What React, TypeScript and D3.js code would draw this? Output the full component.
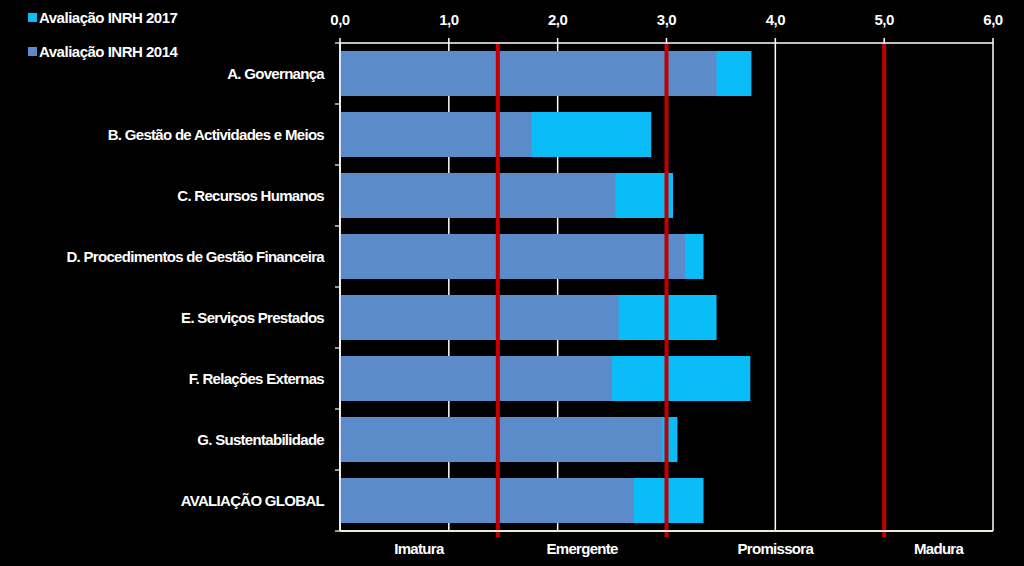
import React from "react";
import * as d3 from "d3";

const categories = [
  "A. Governança",
  "B. Gestão de Actividades e Meios",
  "C. Recursos Humanos",
  "D. Procedimentos de Gestão Financeira",
  "E. Serviços Prestados",
  "F. Relações Externas",
  "G. Sustentabilidade",
  "AVALIAÇÃO GLOBAL",
];
const values2014 = [3.46, 1.76, 2.53, 3.17, 2.56, 2.5, 2.96, 2.7];
const values2017 = [3.78, 2.86, 3.06, 3.34, 3.46, 3.77, 3.1, 3.34];
const xTicks = [0, 1, 2, 3, 4, 5, 6];
const thresholds = [1.45, 3.0, 5.0];
const stageLabels = ["Imatura", "Emergente", "Promissora", "Madura"];
const stageBounds = [0, 1.45, 3.0, 5.0, 6.0];
const seriesNames = ["Avaliação INRH 2017", "Avaliação INRH 2014"];

const C2014 = "#5b8bc8";
const C2017 = "#0abdf9";
const RED = "#c00000";
const FONT = "'Liberation Sans', Arial, sans-serif";

export default function App() {
  const W = 1024, H = 566;
  const x = d3.scaleLinear().domain([0, 6]).range([340, 993]);
  const y = d3.scaleBand<string>().domain(categories).range([43, 531]).paddingInner(0.262).paddingOuter(0.131);
  const top = 43, bottom = 531;
  const fmt = (v: number) => d3.format(".1f")(v).replace(".", ",");
  const step = y.step();

  return (
    <svg width={W} height={H} style={{ position: "absolute", left: 0, top: 0, background: "#000" }} fontFamily={FONT}>
      <rect x={0} y={0} width={W} height={H} fill="#000" />
      {xTicks.map((t) => (
        <line key={"g" + t} x1={x(t)} x2={x(t)} y1={top} y2={bottom} stroke="#fff" strokeWidth={1.5} />
      ))}
      {categories.map((c, i) => (
        <rect key={"b17" + c} x={x(0)} y={y(c)} width={x(values2017[i]) - x(0)} height={y.bandwidth()} fill={C2017} />
      ))}
      {categories.map((c, i) => (
        <rect key={"b14" + c} x={x(0)} y={y(c)} width={x(values2014[i]) - x(0)} height={y.bandwidth()} fill={C2014} />
      ))}
      {thresholds.map((t) => (
        <line key={"r" + t} x1={x(t)} x2={x(t)} y1={top} y2={bottom + 6} stroke={RED} strokeWidth={4} />
      ))}
      <line x1={x(0)} x2={x(6)} y1={top} y2={top} stroke="#fff" strokeWidth={1.5} />
      {xTicks.map((t) => (
        <line key={"tt" + t} x1={x(t)} x2={x(t)} y1={top - 5} y2={top} stroke="#fff" strokeWidth={1.5} />
      ))}
      {xTicks.map((t) => (
        <text key={"tl" + t} x={x(t)} y={25} textAnchor="middle" fill="#fff" fontSize={15} fontWeight="bold" letterSpacing={-0.5}>
          {fmt(t)}
        </text>
      ))}
      <line x1={x(0)} x2={x(6)} y1={bottom} y2={bottom} stroke="#f2ead8" strokeWidth={2} />
      <line x1={x(0)} x2={x(0)} y1={top} y2={bottom} stroke="#fff" strokeWidth={1.5} />
      {d3.range(categories.length + 1).map((k) => (
        <line key={"lt" + k} x1={x(0) - 5} x2={x(0)} y1={top + k * step} y2={top + k * step} stroke="#fff" strokeWidth={1.2} />
      ))}
      {categories.map((c) => (
        <text key={"cl" + c} x={324} y={(y(c) as number) + y.bandwidth() / 2 + 5} textAnchor="end" fill="#fff" fontSize={15} fontWeight="bold" letterSpacing={-0.7}>
          {c}
        </text>
      ))}
      {stageLabels.map((s, i) => (
        <text key={"s" + s} x={x((stageBounds[i] + stageBounds[i + 1]) / 2)} y={554} textAnchor="middle" fill="#fff" fontSize={15} fontWeight="bold" letterSpacing={-0.7}>
          {s}
        </text>
      ))}
      {seriesNames.map((n, i) => (
        <g key={"lg" + n} transform={`translate(28, ${11 + i * 34})`}>
          <rect x={0} y={2} width={9} height={9} fill={i === 0 ? C2017 : C2014} />
          <text x={11} y={12} fill="#fff" fontSize={15} fontWeight="bold" letterSpacing={-0.5}>
            {n}
          </text>
        </g>
      ))}
    </svg>
  );
}
